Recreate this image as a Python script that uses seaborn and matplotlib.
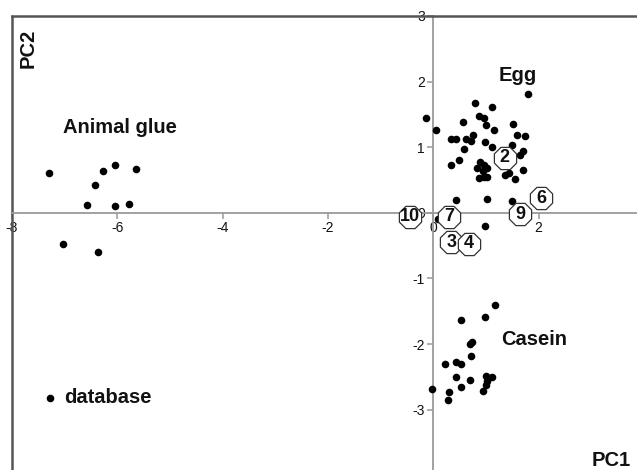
import matplotlib
matplotlib.use("Agg")
import matplotlib.pyplot as plt
import pandas as pd
import seaborn as sns

# ---- data ----
glue_x = [-7.30, -6.27, -6.05, -5.65, -6.42, -6.57, -6.05, -5.78, -7.04, -6.36]
glue_y = [0.60, 0.64, 0.73, 0.67, 0.42, 0.12, 0.10, 0.13, -0.47, -0.59]

egg_x = [-0.14, 0.06, 0.80, 1.12, 1.80, 0.86, 0.96, 1.00, 0.57, 1.16, 1.51, 1.60,
         1.75, 0.75, 0.62, 0.72, 0.33, 0.44, 0.59, 0.98, 1.12, 1.50, 1.71, 1.64,
         0.49, 0.34, 0.89, 0.96, 1.02, 0.83, 0.94, 0.86, 0.96, 1.03, 1.37, 1.43,
         1.55, 1.70, 0.44, 1.03, 1.49, 0.10, 0.99]
egg_y = [1.44, 1.26, 1.67, 1.62, 1.81, 1.48, 1.45, 1.34, 1.39, 1.26, 1.35, 1.19,
         1.17, 1.19, 1.13, 1.09, 1.12, 1.12, 0.98, 1.08, 1.01, 1.03, 0.94, 0.88,
         0.81, 0.73, 0.78, 0.73, 0.68, 0.68, 0.63, 0.53, 0.55, 0.55, 0.57, 0.61,
         0.51, 0.65, 0.19, 0.21, 0.18, -0.09, -0.20]

casein_x = [1.17, 0.99, 0.52, 0.74, 0.69, 0.72, 0.23, 0.43, 0.52, 0.43, 0.70,
            1.01, 1.12, 1.03, 1.00, 0.94, 0.52, 0.30, 0.28, -0.02]
casein_y = [-1.41, -1.59, -1.63, -1.97, -2.00, -2.18, -2.30, -2.28, -2.30, -2.50,
            -2.55, -2.49, -2.51, -2.57, -2.63, -2.71, -2.66, -2.73, -2.85, -2.68]

database_x = [-7.27]
database_y = [-2.82]

sample_labels = ["10", "7", "3", "4", "2", "9", "6"]
sample_x = [-0.45, 0.30, 0.34, 0.67, 1.36, 1.65, 2.05]
sample_y = [-0.06, -0.06, -0.45, -0.47, 0.84, -0.02, 0.22]

group_names = ["Animal glue", "Egg", "Casein", "database"]
group_label_x = [-7.03, 1.25, 1.29, -7.01]
group_label_y = [1.30, 2.10, -1.93, -2.82]

x_ticks = [-8, -6, -4, -2, 0, 2]
y_ticks = [-4, -3, -2, -1, 0, 1, 2, 3]

# ---- build table ----
df = pd.concat([
    pd.DataFrame({"PC1": glue_x, "PC2": glue_y, "group": "Animal glue"}),
    pd.DataFrame({"PC1": egg_x, "PC2": egg_y, "group": "Egg"}),
    pd.DataFrame({"PC1": casein_x, "PC2": casein_y, "group": "Casein"}),
    pd.DataFrame({"PC1": database_x, "PC2": database_y, "group": "database"}),
], ignore_index=True)

samples = pd.DataFrame({"PC1": sample_x, "PC2": sample_y, "label": sample_labels})

sns.set_style("white")
plt.rcParams['font.family'] = ['Liberation Sans', 'DejaVu Sans']

fig = plt.figure(figsize=(6.37, 4.70), dpi=100)
ax = fig.add_axes([12 / 637, -8.5 / 470, 1 - 12 / 637, 462.5 / 470])

sns.scatterplot(data=df, x="PC1", y="PC2", color="black", s=30,
                linewidth=0, legend=False, ax=ax, zorder=3)

for i, row in samples.iterrows():
    sns.scatterplot(x=[row["PC1"]], y=[row["PC2"]], marker="8", s=300,
                    facecolor="white", edgecolor="#333333", linewidth=0.9,
                    legend=False, ax=ax, zorder=4 + i, clip_on=False)
    ax.text(row["PC1"], row["PC2"], row["label"], ha="center", va="center",
            fontsize=13, fontweight="bold", color="#111111", zorder=4 + i)

for name, gx, gy in zip(group_names, group_label_x, group_label_y):
    ax.text(gx, gy, name, ha="left", va="center", fontsize=14.5,
            fontweight="bold", color="#111111", zorder=5)

ax.set_xlim(-8, 3.87)
ax.set_ylim(-4.05, 3)

# axes through origin
ax.spines["left"].set_position(("data", 0))
ax.spines["bottom"].set_position(("data", 0))
for s in ["left", "bottom"]:
    ax.spines[s].set_color("#9a9a9a")
    ax.spines[s].set_linewidth(1.3)
ax.spines["right"].set_visible(False)
ax.spines["top"].set_color("#555555")
ax.spines["top"].set_linewidth(1.8)
ax.plot([0, 0], [0, 1], transform=ax.transAxes, color="#555555", lw=1.8,
        clip_on=False, zorder=2)

ax.set_xticks(x_ticks)
ax.set_xticklabels([str(t) for t in x_ticks])
ax.set_yticks(y_ticks)
ax.set_yticklabels([str(t) for t in y_ticks])
ax.tick_params(axis="both", direction="out", length=4, width=1.1,
               color="#9a9a9a", labelsize=10, pad=2, labelcolor="#111111")
ax.tick_params(axis="x", bottom=True)
ax.tick_params(axis="y", left=True)
ax.set_xlabel("")
ax.set_ylabel("")

ax.text(-7.70, 2.51, "PC2", rotation=90, ha="center", va="center",
        fontsize=14.5, fontweight="bold", color="#111111")
ax.text(3.01, -3.77, "PC1", ha="left", va="center",
        fontsize=14.5, fontweight="bold", color="#111111")

fig.savefig("out.png", dpi=100)
